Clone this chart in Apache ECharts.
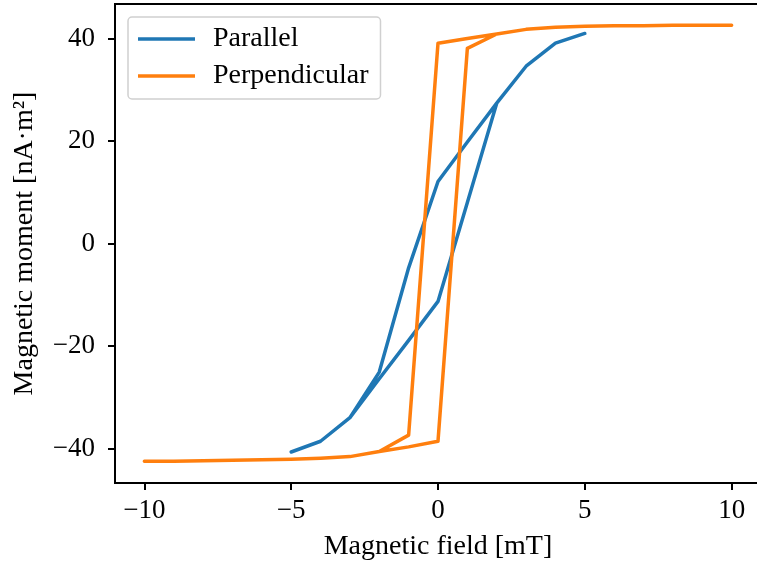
<!DOCTYPE html>
<html>
<head>
<meta charset="utf-8">
<script src="https://cdn.jsdelivr.net/npm/echarts@6/dist/echarts.min.js"></script>
<style>html,body{margin:0;padding:0;background:#fff;}#chart{width:757px;height:570px;}</style>
</head>
<body>
<div id="chart"></div>
<script>
// Parallel: hysteresis loop, field in mT, moment in nA·m²
const parallelField = [-5, -4, -3, -2, -1, 0, 1, 2, 3, 4, 5, 4, 3, 2, 1, 0, -1, -2, -3, -4, -5];
const parallelMoment = [-40.7, -38.6, -34.0, -26.4, -18.9, -11.3, 8.0, 27.4, 34.6, 39.1, 41.0,
                        39.1, 34.6, 27.4, 19.8, 12.1, -4.75, -25.1, -34.0, -38.6, -40.7];
// Perpendicular
const perpField = [-10, -9, -8, -7, -6, -5, -4, -3, -2, -1, 0, 1, 2, 3, 4, 5, 6, 7, 8, 9, 10,
                   9, 8, 7, 6, 5, 4, 3, 2, 1, 0, -1, -2, -3, -4, -5, -6, -7, -8, -9, -10];
const perpMoment = [-42.5, -42.5, -42.4, -42.3, -42.2, -42.1, -41.9, -41.6, -40.6, -39.7, -38.6,
                    38.1, 40.9, 41.8, 42.2, 42.4, 42.5, 42.5, 42.6, 42.6, 42.6,
                    42.6, 42.6, 42.5, 42.5, 42.4, 42.2, 41.8, 40.9, 40.0, 39.1,
                    -37.4, -40.6, -41.6, -41.9, -42.1, -42.2, -42.3, -42.4, -42.5, -42.5];
const xTicks = [-10, -5, 0, 5, 10];
const yTicks = [-40, -20, 0, 20, 40];
const seriesNames = ['Parallel', 'Perpendicular'];
const xLabel = 'Magnetic field [mT]';
const yLabel = 'Magnetic moment [nA·m²]';

const FONT = 'Liberation Serif';
const fmt = v => String(v).replace('-', '\u2212');
const pairs = (xs, ys) => xs.map((x, i) => [x, ys[i]]);

const chart = echarts.init(document.getElementById('chart'), null, {renderer: 'canvas'});
chart.setOption({
  animation: false,
  backgroundColor: '#fff',
  textStyle: {fontFamily: FONT, color: '#000'},
  grid: {left: 115, top: 4, width: 646, height: 479, show: true, borderColor: '#000', borderWidth: 2,
         outerBoundsMode: 'none', containLabel: false},
  legend: {
    orient: 'vertical', left: 128, top: 17,
    icon: 'rect', itemWidth: 57, itemHeight: 3.5, itemGap: 9,
    padding: [8, 12, 9, 10],
    backgroundColor: 'rgba(255,255,255,0.8)', borderColor: '#d0d0d0', borderWidth: 1.5, borderRadius: 4,
    textStyle: {fontFamily: FONT, fontSize: 28, color: '#000', lineHeight: 28, padding: [0, 0, 0, 13]},
    data: seriesNames
  },
  xAxis: {
    type: 'value', min: -11, max: 11,
    name: xLabel, nameLocation: 'middle', nameGap: 50,
    nameTextStyle: {fontFamily: FONT, fontSize: 28, color: '#000'},
    axisLine: {show: true, onZero: false, lineStyle: {color: '#000', width: 2}},
    axisTick: {show: true, length: 7, lineStyle: {color: '#000', width: 2}, customValues: xTicks},
    axisLabel: {fontFamily: FONT, fontSize: 27, color: '#000', margin: 14, customValues: xTicks, formatter: fmt},
    splitLine: {show: false}
  },
  yAxis: {
    type: 'value', min: -46.75, max: 46.75,
    name: yLabel, nameLocation: 'middle', nameGap: 76,
    nameTextStyle: {fontFamily: FONT, fontSize: 28, color: '#000'},
    axisLine: {show: true, onZero: false, lineStyle: {color: '#000', width: 2}},
    axisTick: {show: true, length: 7, lineStyle: {color: '#000', width: 2}, customValues: yTicks},
    axisLabel: {fontFamily: FONT, fontSize: 27, color: '#000', margin: 20, customValues: yTicks, formatter: fmt},
    splitLine: {show: false}
  },
  series: [
    {name: seriesNames[0], type: 'line', data: pairs(parallelField, parallelMoment), showSymbol: false,
     color: '#1f77b4', lineStyle: {width: 3.5, color: '#1f77b4', cap: 'round', join: 'round'}},
    {name: seriesNames[1], type: 'line', data: pairs(perpField, perpMoment), showSymbol: false,
     color: '#ff7f0e', lineStyle: {width: 3.5, color: '#ff7f0e', cap: 'round', join: 'round'}}
  ]
});
</script>
</body>
</html>
